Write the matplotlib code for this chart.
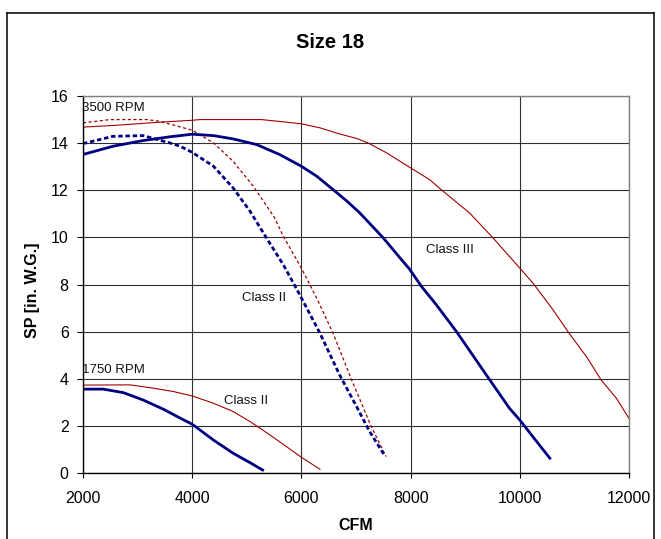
import matplotlib
matplotlib.use("Agg")
import matplotlib.pyplot as plt
from matplotlib.lines import Line2D

plt.rcParams['font.family'] = ['Liberation Sans', 'DejaVu Sans']

# ---- data ----
# 3500 RPM, Class III (red, solid)
c3_red_x = [2000, 2550, 3410, 4000, 4140, 5270, 5600, 6000, 6340, 6700, 7010, 7220,
            7560, 8000, 8170, 8350, 8560, 9080, 9510, 10000, 10240, 10610, 10880,
            11220, 11490, 11770, 12010]
c3_red_y = [14.68, 14.75, 14.89, 14.97, 15.0, 15.0, 14.92, 14.82, 14.65, 14.39, 14.2, 14.01,
            13.59, 12.95, 12.71, 12.45, 12.03, 11.04, 9.98, 8.70, 8.07, 6.93, 6.01,
            4.95, 3.96, 3.18, 2.29]

# 3500 RPM, Class III (blue, solid)
c3_blue_x = [2000, 2550, 3100, 3590, 3780, 4000, 4390, 4750, 5180, 5600, 6000, 6280,
             6580, 6830, 7070, 7500, 7800, 7980, 8200, 8470, 8840, 9450, 9810, 10000,
             10240, 10550]
c3_blue_y = [13.52, 13.87, 14.11, 14.27, 14.32, 14.38, 14.32, 14.18, 13.94, 13.52, 13.02, 12.6,
             12.03, 11.55, 11.04, 9.98, 9.15, 8.66, 7.92, 7.15, 6.01, 3.96, 2.76, 2.26,
             1.55, 0.64]

# 3500 RPM, Class II (blue, dotted)
c2_blue_x = [2000, 2550, 3100, 3590, 3780, 4000, 4390, 4750, 5060, 5360, 5670, 5970,
             6340, 6700, 7010, 7250, 7530]
c2_blue_y = [13.98, 14.29, 14.32, 14.01, 13.87, 13.61, 13.02, 12.1, 11.11, 9.98, 8.84, 7.57,
             5.94, 4.17, 2.83, 1.77, 0.73]

# 3500 RPM, Class II (red, dotted)
c2_red_x = [2000, 2490, 3170, 3400, 3780, 4000, 4390, 4750, 5120, 5500, 5670, 6000,
            6280, 6580, 6920, 7280, 7550]
c2_red_y = [14.86, 15.0, 15.0, 14.93, 14.69, 14.55, 14.01, 13.23, 12.17, 10.87, 10.05, 8.70,
            7.43, 5.94, 3.96, 1.98, 0.71]

# 1750 RPM, Class II (red, solid)
l_red_x = [2000, 2860, 3290, 3650, 4000, 4390, 4750, 5060, 5270, 5600, 6000, 6340]
l_red_y = [3.74, 3.75, 3.61, 3.47, 3.28, 2.97, 2.62, 2.19, 1.87, 1.34, 0.68, 0.17]

# 1750 RPM (blue, solid)
l_blue_x = [2000, 2370, 2740, 3100, 3470, 3780, 4000, 4390, 4750, 5060, 5290]
l_blue_y = [3.57, 3.57, 3.42, 3.11, 2.72, 2.34, 2.08, 1.41, 0.85, 0.45, 0.14]

x_ticks = [2000, 4000, 6000, 8000, 10000, 12000]
y_ticks = [0, 2, 4, 6, 8, 10, 12, 14, 16]

title = "Size 18"
x_label = "CFM"
y_label = "SP [in. W.G.]"

RED = '#A00000'
BLUE = '#000080'

fig = plt.figure(figsize=(6.61, 5.39), dpi=100)
fig.patch.set_facecolor('white')

# outer chart border
W, H = 661.0, 539.0
bx0, bx1, by1 = 7 / W, 654 / W, 1 - 13 / H
for xs, ys in [([bx0, bx0], [-0.01, by1]), ([bx0, bx1], [by1, by1]), ([bx1, bx1], [by1, -0.01])]:
    fig.add_artist(Line2D(xs, ys, transform=fig.transFigure, color='black', lw=1.1))

ax = fig.add_axes([83 / W, 1 - 473.3 / H, 546 / W, (473.3 - 96) / H])
ax.set_xlim(2000, 12000)
ax.set_ylim(0, 16)
ax.set_xticks(x_ticks)
ax.set_yticks(y_ticks)
ax.grid(True, color='#303030', lw=0.8)
ax.set_axisbelow(True)

for s in ['top', 'right']:
    ax.spines[s].set_color('#808080')
    ax.spines[s].set_linewidth(1.0)
for s in ['left', 'bottom']:
    ax.spines[s].set_color('black')
    ax.spines[s].set_linewidth(1.0)

ax.tick_params(axis='x', direction='out', length=3.6, width=0.8, pad=9, labelsize=11.5)
ax.tick_params(axis='y', direction='out', length=4.3, width=0.8, pad=6, labelsize=11.5)

ax.plot(c3_red_x, c3_red_y, color=RED, lw=0.8)
ax.plot(c2_red_x, c2_red_y, color=RED, lw=0.9, dashes=(2.5, 2.0))
ax.plot(l_red_x, l_red_y, color=RED, lw=0.8)
ax.plot(c3_blue_x, c3_blue_y, color=BLUE, lw=2.0)
ax.plot(c2_blue_x, c2_blue_y, color=BLUE, lw=2.0, dashes=(1.6, 1.0))
ax.plot(l_blue_x, l_blue_y, color=BLUE, lw=2.0)

lab_kw = dict(fontsize=9.5, color='#111111', va='center', ha='left', clip_on=False)
ax.text(1975, 15.5, "3500 RPM", **lab_kw)
ax.text(1975, 4.36, "1750 RPM", **lab_kw)
ax.text(4904, 7.43, "Class II", **lab_kw)
ax.text(4580, 3.08, "Class II", **lab_kw)
ax.text(8290, 9.45, "Class III", **lab_kw)

fig.text(330.5 / W, 1 - 43 / H, title, fontsize=14.5, fontweight='bold', ha='center', va='center')
fig.text(356 / W, 1 - 525 / H, x_label, fontsize=11.5, fontweight='bold', ha='center', va='center')
fig.text(33 / W, 1 - 290 / H, y_label, fontsize=11.5, fontweight='bold', ha='center', va='center',
         rotation=90)

fig.savefig("out.png", dpi=100, facecolor='white')
